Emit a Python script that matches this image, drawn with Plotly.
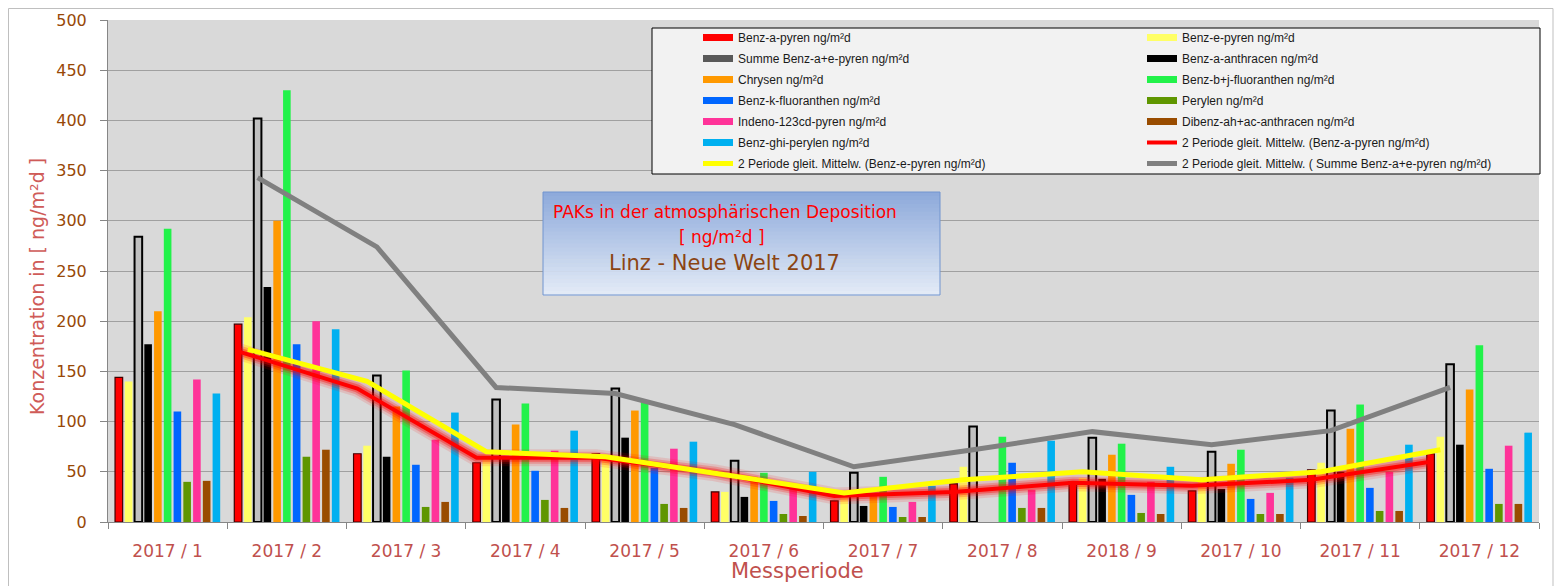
import plotly.graph_objects as go

# ---------------- data ----------------
periods = ["2017 / 1", "2017 / 2", "2017 / 3", "2017 / 4", "2017 / 5", "2017 / 6",
           "2017 / 7", "2017 / 8", "2018 / 9", "2017 / 10", "2017 / 11", "2017 / 12"]

benz_a_pyren      = [144, 197, 68, 59, 68, 30, 21, 38, 40, 31, 52, 68]
benz_e_pyren      = [140, 204, 76, 64, 64, 30, 28, 55, 44, 40, 59, 85]
summe_benz_a_e    = [284, 402, 146, 122, 133, 61, 49, 95, 84, 70, 111, 157]
benz_a_anthracen  = [177, 234, 65, 65, 84, 25, 16, None, 43, 33, 50, 77]
chrysen           = [210, 300, 115, 97, 111, 45, 28, None, 67, 58, 93, 132]
benz_bj_fluor     = [292, 430, 151, 118, 120, 49, 45, 85, 78, 72, 117, 176]
benz_k_fluor      = [110, 177, 57, 51, 54, 21, 15, 59, 27, 23, 34, 53]
perylen           = [40, 65, 15, 22, 18, 8, 5, 14, 9, 8, 11, 18]
indeno_pyren      = [142, 200, 82, 71, 73, 35, 20, 32, 40, 29, 50, 76]
dibenz_anthracen  = [41, 72, 20, 14, 14, 6, 5, 14, 8, 8, 11, 18]
benz_ghi_perylen  = [128, 192, 109, 91, 80, 50, 36, 81, 55, 44, 77, 89]

# 2-period moving averages (from period 2 on)
ma_benz_a_pyren = [170, 133, 64, 64, 49, 26, 30, 39, 36, 42, 60]
ma_benz_e_pyren = [172, 140, 70, 65, 47, 29, 42, 50, 42, 50, 72]
ma_summe        = [343, 274, 134, 128, 97, 55, 72, 90, 77, 91, 134]

bar_names = ["Benz-a-pyren ng/m²d", "Benz-e-pyren ng/m²d", "Summe Benz-a+e-pyren ng/m²d",
             "Benz-a-anthracen ng/m²d", "Chrysen ng/m²d", "Benz-b+j-fluoranthen ng/m²d",
             "Benz-k-fluoranthen ng/m²d", "Perylen ng/m²d", "Indeno-123cd-pyren ng/m²d",
             "Dibenz-ah+ac-anthracen ng/m²d", "Benz-ghi-perylen ng/m²d"]
bar_values = [benz_a_pyren, benz_e_pyren, summe_benz_a_e, benz_a_anthracen, chrysen,
              benz_bj_fluor, benz_k_fluor, perylen, indeno_pyren, dibenz_anthracen,
              benz_ghi_perylen]
ma_names = ["2 Periode gleit. Mittelw. (Benz-a-pyren ng/m²d)",
            "2 Periode gleit. Mittelw. (Benz-e-pyren ng/m²d)",
            "2 Periode gleit. Mittelw. ( Summe Benz-a+e-pyren ng/m²d)"]

# ---------------- styles ----------------
bar_colors = ["#ff0000", "#ffff66", "#c0c0c0", "#000000", "#ff9900", "#22f24a",
              "#0066ff", "#5f9600", "#ff3399", "#994c00", "#00b0f0"]
bar_line_colors = ["#400000", None, "#000000", None, None, None, None, None, None, None, None]
bar_line_widths = [1.2, 0, 2, 0, 0, 0, 0, 0, 0, 0, 0]
legend_sym_colors = ["#ff0000", "#ffff66", "#595959", "#000000", "#ff9900", "#22f24a",
                     "#0066ff", "#5f9600", "#ff3399", "#994c00", "#00b0f0"]

# the page body adds an 8px margin: work in window pixels, convert to figure pixels
OFF = 8
WIN_W, WIN_H = 1562, 586
W, H = WIN_W - OFF, WIN_H - OFF
PLOT_L, PLOT_R, PLOT_T, PLOT_B = 108, 1539, 20, 522       # window pixels
ML, MR, MT, MB = PLOT_L - OFF, WIN_W - PLOT_R, PLOT_T - OFF, WIN_H - PLOT_B
PW, PH = W - ML - MR, H - MT - MB
BARGAP, BARGROUPGAP = 0.10, 0.22
NSER = len(bar_values)


def px_x(px):
    return (px - OFF - ML) / PW


def px_y(py):
    return 1 - (py - OFF - MT) / PH


xs = list(range(len(periods)))
fig = go.Figure()

# bars
for k, (name, vals) in enumerate(zip(bar_names, bar_values)):
    lc = bar_line_colors[k]
    fig.add_trace(go.Bar(
        x=xs, y=vals, name=name, showlegend=False,
        legendgroup=f"g{k}",
        marker=dict(color=bar_colors[k],
                    line=dict(color=lc if lc else bar_colors[k], width=bar_line_widths[k])),
    ))

# legend entries (wide flat symbols as in the reference)
for k, name in enumerate(bar_names):
    lg = "legend" if k % 2 == 0 else "legend2"
    fig.add_trace(go.Scatter(
        x=[None], y=[None], mode="lines", name=name,
        line=dict(color=legend_sym_colors[k], width=7),
        legend=lg, legendgroup=f"g{k}", legendrank=k + 1, showlegend=True,
    ))

# moving-average lines, positioned at their bar inside each group
slot = (1 - BARGAP) / NSER


def ma_x(k):
    return [i + (k - (NSER - 1) / 2) * slot for i in xs[1:]]


# glow for the red line
for w, a in [(17, 0.12), (12, 0.22), (8, 0.35)]:
    fig.add_trace(go.Scatter(x=ma_x(0), y=ma_benz_a_pyren, mode="lines",
                             line=dict(color=f"rgba(255,0,0,{a})", width=w),
                             showlegend=False, legendgroup="ma0", hoverinfo="skip"))

fig.add_trace(go.Scatter(x=ma_x(0), y=ma_benz_a_pyren, mode="lines", name=ma_names[0],
                         line=dict(color="#ff0000", width=4),
                         legend="legend2", legendgroup="ma0", legendrank=12))
fig.add_trace(go.Scatter(x=ma_x(1), y=ma_benz_e_pyren, mode="lines", name=ma_names[1],
                         line=dict(color="#ffff00", width=5),
                         legend="legend", legendgroup="ma1", legendrank=13))
fig.add_trace(go.Scatter(x=ma_x(2), y=ma_summe, mode="lines", name=ma_names[2],
                         line=dict(color="#808080", width=5),
                         legend="legend2", legendgroup="ma2", legendrank=14))

# ---------------- decorations ----------------
shapes = []
# outer chart frame
shapes.append(dict(type="rect", xref="paper", yref="paper",
                   x0=px_x(8.5), x1=px_x(1553), y0=px_y(600), y1=px_y(8.5),
                   line=dict(color="#bfbfbf", width=1), fillcolor="rgba(0,0,0,0)",
                   layer="below"))
# legend box
shapes.append(dict(type="rect", xref="paper", yref="paper",
                   x0=px_x(652), x1=px_x(1540), y0=px_y(174), y1=px_y(28),
                   line=dict(color="#000000", width=1), fillcolor="#f2f2f2", layer="above"))
# title box with vertical gradient
bx0, bx1, by0, by1 = 543, 940, 192, 295
top_rgb = (142, 170, 219)
bot_rgb = (226, 234, 246)
nstrip = 26
for s in range(nstrip):
    t = s / (nstrip - 1)
    c = tuple(round(top_rgb[j] + (bot_rgb[j] - top_rgb[j]) * t) for j in range(3))
    ya = by0 + (by1 - by0) * s / nstrip
    yb = by0 + (by1 - by0) * (s + 1) / nstrip
    shapes.append(dict(type="rect", xref="paper", yref="paper",
                       x0=px_x(bx0), x1=px_x(bx1), y0=px_y(yb + 0.5), y1=px_y(ya),
                       line=dict(width=0), fillcolor=f"rgb{c}", layer="above"))
shapes.append(dict(type="rect", xref="paper", yref="paper",
                   x0=px_x(bx0), x1=px_x(bx1), y0=px_y(by1), y1=px_y(by0),
                   line=dict(color="#7094cf", width=1), fillcolor="rgba(0,0,0,0)",
                   layer="above"))

annotations = [
    dict(text="PAKs in der atmosphärischen Deposition", x=px_x(725), y=px_y(212),
         font=dict(family="DejaVu Sans", size=17, color="#ff0000")),
    dict(text="[ ng/m²d ]", x=px_x(722), y=px_y(237),
         font=dict(family="DejaVu Sans", size=17, color="#ff0000")),
    dict(text="Linz - Neue Welt 2017", x=px_x(724), y=px_y(263),
         font=dict(family="DejaVu Sans", size=21, color="#8b4513")),
    dict(text="Konzentration in [ ng/m²d ]", x=px_x(37), y=px_y(287), textangle=-90,
         font=dict(family="DejaVu Sans", size=19, color="#cf5b58")),
    dict(text="Messperiode", x=px_x(797), y=px_y(571),
         font=dict(family="DejaVu Sans", size=21, color="#c0504d")),
]
for a in annotations:
    a.update(xref="paper", yref="paper", showarrow=False, xanchor="center", yanchor="middle")

legend_common = dict(
    bgcolor="rgba(0,0,0,0)", borderwidth=0, orientation="v",
    font=dict(family="Liberation Sans", size=12, color="#1a1a1a"),
    traceorder="grouped", tracegroupgap=2, itemwidth=30,
    xanchor="left", yanchor="top", itemclick=False, itemdoubleclick=False,
)

fig.update_layout(
    width=W, height=H,
    margin=dict(l=ML, r=MR, t=MT, b=MB, autoexpand=False),
    paper_bgcolor="#ffffff", plot_bgcolor="#d9d9d9",
    barmode="group", bargap=BARGAP, bargroupgap=BARGROUPGAP,
    showlegend=True,
    legend=dict(x=px_x(698), y=px_y(23), **legend_common),
    legend2=dict(x=px_x(1142), y=px_y(23), **legend_common),
    shapes=shapes, annotations=annotations,
    xaxis=dict(range=[-0.5, len(periods) - 0.5], tickmode="array", tickvals=xs,
               ticktext=periods, ticks="", showgrid=False, zeroline=False,
               showline=True, linecolor="#868686", linewidth=1,
               tickfont=dict(family="DejaVu Sans", size=17, color="#c0504d"),
               ticklabelstandoff=14, automargin=False,
               minor=dict(tick0=-0.5, dtick=1, ticks="outside", ticklen=6,
                          tickcolor="#868686", showgrid=False)),
    yaxis=dict(range=[0, 500], dtick=50, tick0=0, showgrid=True, gridcolor="#a0a0a0",
               gridwidth=1, zeroline=False, showline=True, linecolor="#868686",
               linewidth=1, ticks="outside", ticklen=7, tickcolor="#868686",
               tickfont=dict(family="DejaVu Sans", size=16, color="#984807"),
               ticklabelstandoff=10, automargin=False),
)

fig.write_html("out.html")
